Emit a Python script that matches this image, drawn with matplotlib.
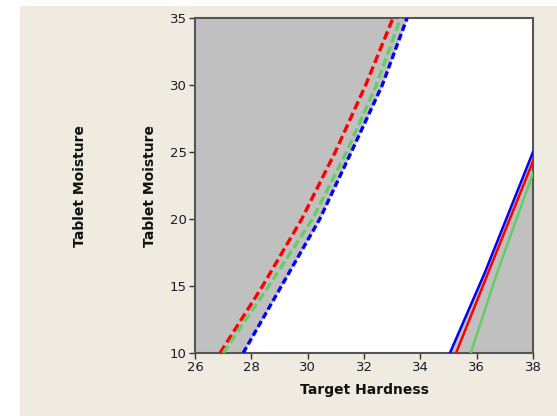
import numpy as np
import matplotlib
matplotlib.use("Agg")
import matplotlib.pyplot as plt
from matplotlib.patches import Rectangle

# Contour boundaries: moisture levels and the hardness at which each curve crosses them
moisture_left = [10, 15, 20, 25, 30, 35]
left_red = [26.89, 28.40, 29.79, 30.98, 32.06, 33.03]
left_green = [27.00, 28.62, 30.17, 31.38, 32.44, 33.30]
left_blue = [27.71, 29.07, 30.43, 31.55, 32.65, 33.53]

moisture_right_blue = [10, 16.0, 25.0]
right_blue = [35.05, 36.29, 38.0]
moisture_right_red = [10, 16.0, 24.3]
right_red = [35.27, 36.41, 38.0]
moisture_right_green = [10, 16.0, 23.4]
right_green = [35.79, 36.73, 38.0]

x_ticks = [26, 28, 30, 32, 34, 36, 38]
y_ticks = [10, 15, 20, 25, 30, 35]

beige = "#EFEBE1"
shade = "#C0C0C0"

fig = plt.figure(figsize=(5.57, 4.16), dpi=100, facecolor=beige)
# white margins along the top and left edge
fig.patches.append(Rectangle((0, 1 - 6 / 416), 1, 6 / 416, transform=fig.transFigure,
                             facecolor="white", edgecolor="none", zorder=0))
fig.patches.append(Rectangle((0, 0), 20 / 557, 1, transform=fig.transFigure,
                             facecolor="white", edgecolor="none", zorder=0))

ax = fig.add_axes([195 / 557, 1 - 353 / 416, (533 - 195) / 557, (353 - 18) / 416])
ax.set_facecolor("white")
ax.set_xlim(26, 38)
ax.set_ylim(10, 35)

# shaded infeasible regions
ax.fill_betweenx(moisture_left, 26, left_blue, color=shade, lw=0, zorder=1)
ax.fill_betweenx(moisture_right_blue, right_blue, 38, color=shade, lw=0, zorder=1)

lw = 2.4
ax.plot(left_red, moisture_left, color="#FF0000", lw=lw, dashes=(2.6, 1.2), zorder=3)
ax.plot(left_green, moisture_left, color="#66CC66", lw=lw, dashes=(2.6, 1.2), zorder=3)
ax.plot(left_blue, moisture_left, color="#0000FF", lw=lw, dashes=(2.0, 1.0), zorder=3)

ax.plot(right_green, moisture_right_green, color="#66CC66", lw=1.8, zorder=3)
ax.plot(right_red, moisture_right_red, color="#FF0000", lw=1.8, zorder=3)
ax.plot(right_blue, moisture_right_blue, color="#0000FF", lw=1.8, zorder=3)

ax.set_xticks(x_ticks)
ax.set_yticks(y_ticks)
ax.tick_params(direction="out", length=4, width=1, color="#333333",
               labelsize=9.5, labelcolor="#1A1A2A", pad=2)
for s in ax.spines.values():
    s.set_color("#555555")
    s.set_linewidth(1.5)

ax.set_xlabel("Target Hardness", fontsize=10, fontweight="bold", color="#111111", labelpad=6)
for xpos in (80, 150):
    fig.text(xpos / 557, 1 - 186 / 416, "Tablet Moisture", rotation=90, ha="center",
             va="center", fontsize=10, fontweight="bold", color="#111111")

fig.savefig("out.png", dpi=100, facecolor=beige)
